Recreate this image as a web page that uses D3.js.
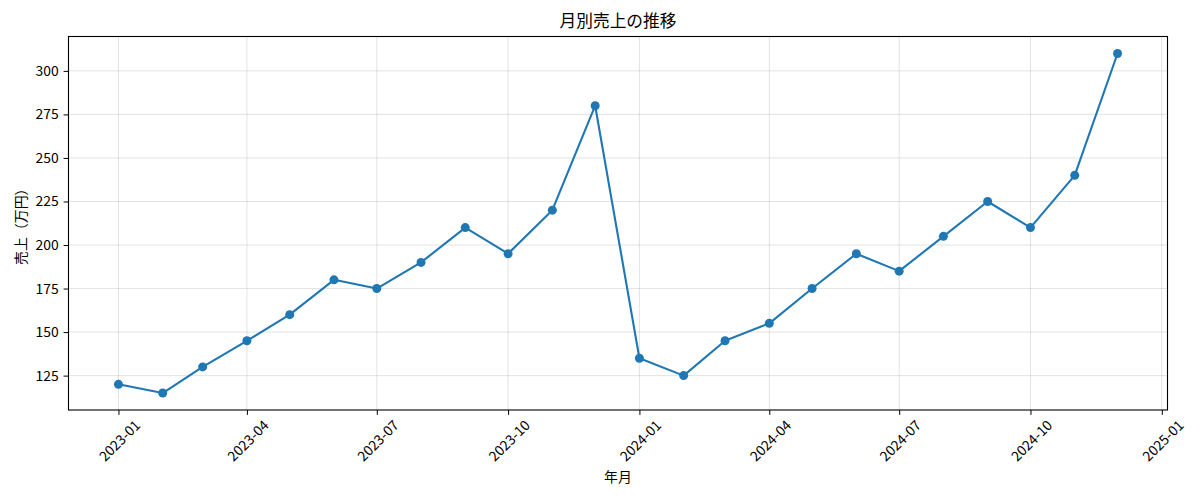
<!DOCTYPE html>
<html>
<head>
<meta charset="utf-8">
<script src="https://cdn.jsdelivr.net/npm/d3@7"></script>
<style>
  body { margin: 0; background: #fff; }
  svg { font-family: "Noto Sans CJK JP", "Noto Sans", sans-serif; }
</style>
</head>
<body>
<svg id="chart" width="1200" height="500"></svg>
<script>
// monthly sales (万円), 2023-01 .. 2024-12
const months = ["2023-01","2023-02","2023-03","2023-04","2023-05","2023-06","2023-07","2023-08","2023-09","2023-10","2023-11","2023-12",
                "2024-01","2024-02","2024-03","2024-04","2024-05","2024-06","2024-07","2024-08","2024-09","2024-10","2024-11","2024-12"];
const sales = [120,115,130,145,160,180,175,190,210,195,220,280,
               135,125,145,155,175,195,185,205,225,210,240,310];
const xTickLabels = ["2023-01","2023-04","2023-07","2023-10","2024-01","2024-04","2024-07","2024-10","2025-01"];
const yTicks = [125,150,175,200,225,250,275,300];

const FONT = '"Noto Sans CJK JP", "Noto Sans", sans-serif';
const parse = d3.utcParse("%Y-%m");
const data = months.map((m, i) => ({ date: parse(m), value: sales[i] }));

const margin = { top: 36.5, right: 32.5, bottom: 90, left: 68.5 };
const w = 1200 - margin.left - margin.right;
const h = 410 - margin.top;

const svg = d3.select("#chart");
const g = svg.append("g").attr("transform", `translate(${margin.left},${margin.top})`);

// matplotlib style 5% padding
const xExt = d3.extent(data, d => +d.date);
const xPad = (xExt[1] - xExt[0]) * 0.05;
const xScale = d3.scaleUtc()
  .domain([new Date(xExt[0] - xPad), new Date(xExt[1] + xPad)])
  .range([0, w]);

const yExt = d3.extent(sales);
const yPad = (yExt[1] - yExt[0]) * 0.05;
const yScale = d3.scaleLinear()
  .domain([yExt[0] - yPad, yExt[1] + yPad])
  .range([h, 0]);

const xTickDates = xTickLabels.map(parse);

// grid
g.append("g").selectAll("line")
  .data(xTickDates)
  .join("line")
    .attr("x1", d => xScale(d)).attr("x2", d => xScale(d))
    .attr("y1", 0).attr("y2", h)
    .attr("stroke", "#b0b0b0").attr("stroke-opacity", 0.35).attr("stroke-width", 1);
g.append("g").selectAll("line")
  .data(yTicks)
  .join("line")
    .attr("x1", 0).attr("x2", w)
    .attr("y1", d => yScale(d)).attr("y2", d => yScale(d))
    .attr("stroke", "#b0b0b0").attr("stroke-opacity", 0.35).attr("stroke-width", 1);

// axes
const xAxis = d3.axisBottom(xScale)
  .tickValues(xTickDates)
  .tickFormat(d3.utcFormat("%Y-%m"))
  .tickSize(4.9)
  .tickSizeOuter(0);
const gx = g.append("g")
  .attr("transform", `translate(0,${h})`)
  .call(xAxis)
  .attr("font-family", FONT);
gx.select(".domain").remove();
gx.selectAll(".tick line").attr("stroke", "#000").attr("stroke-width", 1);
gx.selectAll(".tick text")
  .attr("font-size", 13.9)
  .attr("fill", "#000")
  .attr("text-anchor", "middle")
  .attr("dominant-baseline", "central")
  .attr("y", 0).attr("dy", null)
  .attr("transform", "translate(0,30) rotate(-45)");

const yAxis = d3.axisLeft(yScale)
  .tickValues(yTicks)
  .tickSize(4.9)
  .tickPadding(4.9)
  .tickSizeOuter(0);
const gy = g.append("g").call(yAxis).attr("font-family", FONT);
gy.select(".domain").remove();
gy.selectAll(".tick line").attr("stroke", "#000").attr("stroke-width", 1);
gy.selectAll(".tick text").attr("font-size", 13.9).attr("fill", "#000");

// frame
g.append("rect")
  .attr("x", 0).attr("y", 0).attr("width", w).attr("height", h)
  .attr("fill", "none").attr("stroke", "#000").attr("stroke-width", 1.1);

// line + markers
const line = d3.line()
  .x(d => xScale(d.date))
  .y(d => yScale(d.value));
g.append("path")
  .datum(data)
  .attr("d", line)
  .attr("fill", "none")
  .attr("stroke", "#1f77b4")
  .attr("stroke-width", 2.1)
  .attr("stroke-linejoin", "round");
g.append("g").selectAll("circle")
  .data(data)
  .join("circle")
    .attr("cx", d => xScale(d.date))
    .attr("cy", d => yScale(d.value))
    .attr("r", 4.5)
    .attr("fill", "#1f77b4");

// labels
svg.append("text")
  .attr("x", margin.left + w / 2).attr("y", 27)
  .attr("text-anchor", "middle")
  .attr("font-size", 16.7)
  .text("月別売上の推移");

svg.append("text")
  .attr("x", margin.left + w / 2).attr("y", 482)
  .attr("text-anchor", "middle")
  .attr("font-size", 13.9)
  .text("年月");

svg.append("text")
  .attr("transform", `translate(26,${margin.top + h / 2}) rotate(-90)`)
  .attr("text-anchor", "middle")
  .attr("font-size", 13.9)
  .text("売上（万円）");
</script>
</body>
</html>
